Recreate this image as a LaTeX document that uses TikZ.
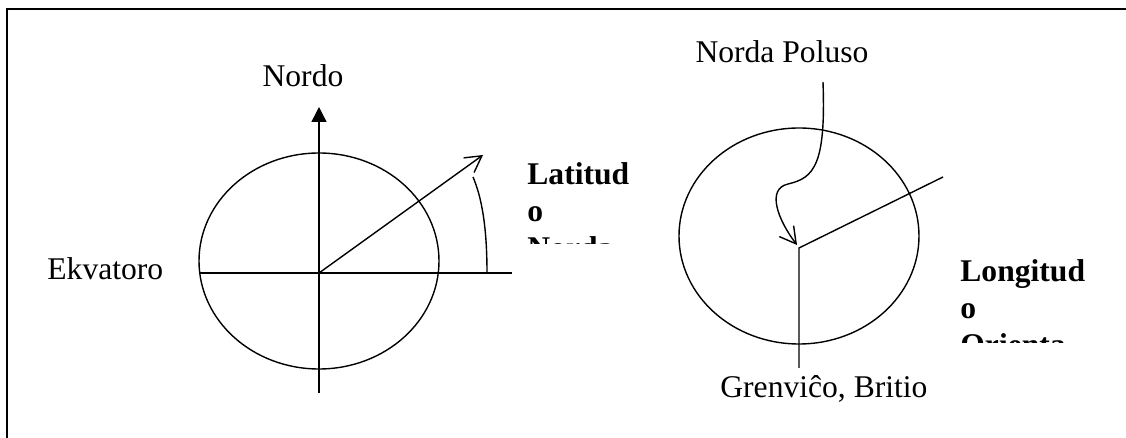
\documentclass[tikz,border=0pt]{standalone}
\usepackage{fontspec}
\setmainfont{Liberation Serif}
\usetikzlibrary{arrows.meta}
\tikzset{
  ln/.style={line width=0.7pt},
  frame/.style={line width=1.2pt},
  lbl/.style={inner sep=0pt, font=\fontsize{15.8}{18.2}\selectfont},
  boldlbl/.style={inner sep=0pt, align=left, font=\fontsize{15.8}{18.3}\selectfont\bfseries},
  barb/.style={-{Straight Barb[length=8pt,width=9pt,line width=0.7pt]}},
  solidtip/.style={-{Triangle[length=7.5pt,width=7.5pt]}}
}
\begin{document}
\begin{tikzpicture}[x=0.5pt,y=-0.5pt]
\useasboundingbox (0,0) rectangle (1126,438);
% frame (left and top only)
\draw[frame] (7,438) -- (7,9) -- (1126,9);

% ---------- left figure ----------
\coordinate (lc) at (319,261);
\coordinate (o) at (319,273);
\coordinate (ntop) at (319,107);
\coordinate (nbot) at (319,393);
\coordinate (eqL) at (199,273);
\coordinate (eqR) at (512,273);
\coordinate (latTip) at (483,155);
\coordinate (arcA) at (487,273);
\coordinate (arcB) at (473,177);
\draw[ln] (lc) ellipse [x radius=120, y radius=108];
\draw[ln] (eqL) -- (eqR);
\draw[ln] (nbot) -- (o);
\draw[ln,solidtip] (o) -- (ntop);
\draw[ln,barb] (o) -- (latTip);
\draw[ln] (arcA) .. controls (487,228) and (482,198) .. (arcB);
\node[lbl,anchor=base] (nordo) at (303,87) {Nordo};
\node[lbl,anchor=base west] (ekv) at (47,280) {Ekvatoro};
\begin{scope}
  \clip (515,140) rectangle (660,244);
  \node[boldlbl,anchor=base west] (lat) at (527,258.2) {Latitud\\o\\Norda};
\end{scope}

% ---------- right figure ----------
\coordinate (rc) at (799,236);
\coordinate (v) at (799,248);
\coordinate (vbot) at (799,368);
\coordinate (lonEnd) at (943,177);
\coordinate (cs) at (823,82);
\coordinate (cm) at (788,184);
\coordinate (ce) at (797,245);
\draw[ln] (rc) ellipse [x radius=120, y radius=108];
\draw[ln] (vbot) -- (v) -- (lonEnd);
\draw[ln,barb] (cs) .. controls (826,165) and (814,178) .. (cm)
                 .. controls (766,189) and (778,220) .. (ce);
\node[lbl,anchor=base] (np) at (782,63) {Norda Poluso};
\node[lbl,anchor=base west] (gr) at (720,398) {Grenviĉo, Britio};
\begin{scope}
  \clip (950,240) rectangle (1100,343);
  \node[boldlbl,anchor=base west] (lon) at (960,355.2) {Longitud\\o\\Orienta};
\end{scope}
\end{tikzpicture}
\end{document}
